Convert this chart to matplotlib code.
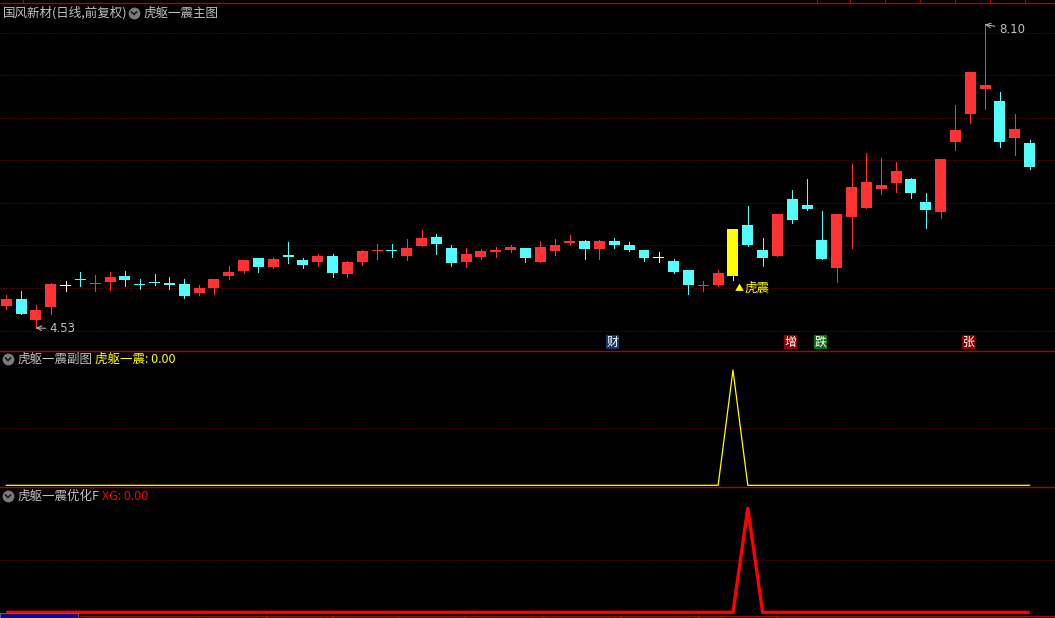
import numpy as np
import matplotlib
matplotlib.use("Agg")
import matplotlib.pyplot as plt
from matplotlib.lines import Line2D
from matplotlib.patches import Rectangle

plt.rcParams['font.family'] = ['Noto Sans CJK SC', 'DejaVu Sans']

# 日线 OHLC (前复权)
opens = [4.79, 4.87, 4.62, 4.78, 5.03, 5.11, 5.05, 5.07, 5.14, 5.05,
         5.07, 5.06, 5.05, 4.94, 5.00, 5.14, 5.20, 5.35, 5.25, 5.39,
         5.33, 5.31, 5.38, 5.17, 5.30, 5.44, 5.45, 5.38, 5.49, 5.60,
         5.47, 5.31, 5.37, 5.42, 5.45, 5.47, 5.31, 5.43, 5.53, 5.55,
         5.46, 5.55, 5.51, 5.45, 5.36, 5.32, 5.21, 5.02, 5.04, 5.14,
         5.74, 5.45, 5.38, 6.05, 5.98, 5.56, 5.24, 5.84, 5.94, 6.17,
         6.24, 6.28, 6.01, 5.89, 6.72, 7.05, 7.34, 7.20, 6.77, 6.71]
highs = [4.92, 4.96, 4.80, 5.06, 5.08, 5.19, 5.15, 5.19, 5.20, 5.11,
         5.16, 5.13, 5.11, 5.04, 5.11, 5.26, 5.33, 5.35, 5.36, 5.54,
         5.35, 5.40, 5.40, 5.32, 5.45, 5.52, 5.52, 5.58, 5.68, 5.64,
         5.51, 5.47, 5.46, 5.48, 5.51, 5.47, 5.55, 5.58, 5.62, 5.56,
         5.56, 5.59, 5.54, 5.45, 5.42, 5.34, 5.21, 5.08, 5.21, 5.69,
         5.96, 5.59, 5.87, 6.15, 6.28, 5.91, 5.87, 6.46, 6.59, 6.53,
         6.48, 6.29, 6.12, 6.52, 7.15, 7.54, 8.10, 7.31, 7.05, 6.74]
lows = [4.75, 4.70, 4.53, 4.70, 4.97, 5.02, 4.97, 4.98, 5.02, 4.99,
        5.04, 4.99, 4.88, 4.92, 4.93, 5.11, 5.18, 5.19, 5.24, 5.29,
        5.24, 5.26, 5.13, 5.13, 5.27, 5.34, 5.37, 5.33, 5.49, 5.40,
        5.26, 5.25, 5.34, 5.36, 5.42, 5.31, 5.31, 5.39, 5.50, 5.34,
        5.34, 5.47, 5.43, 5.32, 5.31, 5.18, 4.93, 4.97, 5.02, 5.10,
        5.49, 5.26, 5.38, 5.76, 5.92, 5.34, 5.07, 5.47, 5.94, 6.11,
        6.13, 6.06, 5.71, 5.82, 6.62, 6.94, 7.10, 6.66, 6.57, 6.40]
closes = [4.87, 4.70, 4.74, 5.05, 5.03, 5.09, 5.06, 5.13, 5.10, 5.03,
          5.06, 5.04, 4.91, 5.00, 5.11, 5.19, 5.33, 5.25, 5.34, 5.37,
          5.27, 5.38, 5.18, 5.31, 5.44, 5.45, 5.44, 5.47, 5.59, 5.52,
          5.29, 5.40, 5.44, 5.45, 5.48, 5.35, 5.48, 5.51, 5.55, 5.46,
          5.55, 5.51, 5.45, 5.35, 5.36, 5.19, 5.04, 5.03, 5.18, 5.69,
          5.51, 5.35, 5.87, 5.80, 5.93, 5.34, 5.87, 6.19, 6.25, 6.21,
          6.38, 6.12, 5.92, 6.52, 6.86, 7.54, 7.39, 6.72, 6.87, 6.42]

# 虎躯一震 (副图) and XG (优化F)
tiger = [0, 0, 0, 0, 0, 0, 0, 0, 0, 0, 0, 0, 0, 0, 0, 0, 0, 0, 0, 0,
         0, 0, 0, 0, 0, 0, 0, 0, 0, 0, 0, 0, 0, 0, 0, 0, 0, 0, 0, 0,
         0, 0, 0, 0, 0, 0, 0, 0, 0, 1, 0, 0, 0, 0, 0, 0, 0, 0, 0, 0,
         0, 0, 0, 0, 0, 0, 0, 0, 0, 0]
xg = [0, 0, 0, 0, 0, 0, 0, 0, 0, 0, 0, 0, 0, 0, 0, 0, 0, 0, 0, 0,
      0, 0, 0, 0, 0, 0, 0, 0, 0, 0, 0, 0, 0, 0, 0, 0, 0, 0, 0, 0,
      0, 0, 0, 0, 0, 0, 0, 0, 0, 0, 1, 0, 0, 0, 0, 0, 0, 0, 0, 0,
      0, 0, 0, 0, 0, 0, 0, 0, 0, 0]

price_grid = [4.5, 5.0, 5.5, 6.0, 6.5, 7.0, 7.5, 8.0]
mark_idx = [41, 53, 55, 65]
mark_text = ['财', '增', '跌', '张']
mark_price = 4.36

UP, DOWN, FLAT, SIG = '#ff3232', '#54fcfc', '#ffffff', '#ffff00'
GRID = '#960000'
SEP = '#b00000'
GRAY = '#c0c0c0'
mark_bg = ['#15386a', '#8c0000', '#0c6e0c', '#8c0000']

W, H = 1055, 618
fig = plt.figure(figsize=(W / 100, H / 100), dpi=100, facecolor='black')

def px(x, y):
    return x / W, 1 - y / H

ax1 = fig.add_axes([0, 1 - 350 / H, 1, 347 / H])
ax2 = fig.add_axes([0, 1 - 487 / H, 1, 136 / H])
ax3 = fig.add_axes([0, 0, 1, 131 / H])

xlim = (-6.3 / 14.83, (W - 6.3) / 14.83)
for ax in (ax1, ax2, ax3):
    ax.set_facecolor('black')
    ax.set_xlim(*xlim)
    ax.set_xticks([])
    ax.set_yticks([])
    for s in ('left', 'right', 'bottom'):
        ax.spines[s].set_visible(False)
    ax.spines['top'].set_color(SEP)
    ax.spines['top'].set_linewidth(1.0)

ax1.set_ylim(4.2706, 8.3529)
ax2.set_ylim(-0.0147, 1.165)
ax3.set_ylim(-0.0548, 1.2048)

# dotted grid
dots = dict(color=GRID, lw=0.72, ls=(0, (1, 2)), zorder=0)
for p in price_grid:
    ax1.axhline(p, **dots)
ax2.axhline(0.5, **dots)
ax3.axhline(0.5, **dots)

# candles
idx = np.arange(len(opens))
o, h, l, c = map(np.array, (opens, highs, lows, closes))
sig = np.array(tiger)
cols = np.where(c > o, UP, np.where(c < o, DOWN, FLAT)).astype(object)
cols[sig == 1] = SIG
minh = 0.012
diff = np.abs(c - o)
bh = np.maximum(diff, minh)
bb = np.minimum(o, c) - (bh - diff) / 2
ax1.vlines(idx, l, h, colors=list(cols), lw=0.72, zorder=2, antialiased=False)
ax1.bar(idx, bh, width=0.74, bottom=bb, color=list(cols), lw=0, zorder=3,
        antialiased=False)

# high / low labels
lo_i = int(np.argmin(l))
hi_i = int(np.argmax(h))
ax1.annotate(f'{l[lo_i]:.2f}', xy=(lo_i, l[lo_i]), xytext=(10, -0.7),
             textcoords='offset points', color=GRAY, fontsize=8.5,
             va='center', ha='left', family='DejaVu Sans',
             arrowprops=dict(arrowstyle='->', color=GRAY, lw=0.7,
                             shrinkA=1, shrinkB=0))
ax1.annotate(f'{h[hi_i]:.2f}', xy=(hi_i, h[hi_i]), xytext=(10, -3.6),
             textcoords='offset points', color=GRAY, fontsize=8.5,
             va='center', ha='left', family='DejaVu Sans',
             arrowprops=dict(arrowstyle='->', color=GRAY, lw=0.7,
                             shrinkA=1, shrinkB=0))

# 虎震 signal label
s_i = int(np.argmax(sig))
ax1.annotate('▲', xy=(s_i, l[s_i]), xytext=(1.5, -3.5),
             textcoords='offset points', color=SIG, fontsize=6.5,
             va='top', ha='left')
ax1.annotate('虎震', xy=(s_i, l[s_i]), xytext=(8, -1.5),
             textcoords='offset points', color=SIG, fontsize=9,
             va='top', ha='left')

# event marks
for i, t, bg in zip(mark_idx, mark_text, mark_bg):
    ax1.text(i - 0.12, mark_price, t, color='white', fontsize=8.6,
             ha='center', va='center',
             bbox=dict(boxstyle='square,pad=0.05', fc=bg, ec='none'))

# indicator panels
ax2.plot(idx, tiger, color=SIG, lw=0.9)
ax3.plot(idx, xg, color='#ff0000', lw=2.4, solid_capstyle='butt')

# panel titles
def icon(x, y):
    fig.add_artist(Line2D([x / W], [1 - y / H], marker='o', ms=8.5,
                          color='#7a7a7a', mec='none', transform=fig.transFigure))
    xs = [(x - 2.5) / W, x / W, (x + 2.5) / W]
    ys = [1 - (y - 1) / H, 1 - (y + 1.5) / H, 1 - (y - 1) / H]
    fig.add_artist(Line2D(xs, ys, color='#1a1a1a', lw=1.2,
                          transform=fig.transFigure))

fig.text(*px(3, 13), '国风新材(日线,前复权)', color=GRAY, fontsize=9, va='center')
icon(134, 13)
fig.text(*px(143, 13), '虎躯一震主图', color=GRAY, fontsize=9, va='center')

icon(8, 359)
fig.text(*px(17, 359), '虎躯一震副图', color=GRAY, fontsize=9, va='center')
fig.text(*px(95, 359), f'虎躯一震: {tiger[-1]:.2f}', color=SIG, fontsize=9, va='center')

icon(8, 496)
fig.text(*px(17, 496), '虎躯一震优化F', color=GRAY, fontsize=9, va='center')
fig.text(*px(102, 496), f'XG: {xg[-1]:.2f}', color='#ff0000', fontsize=9, va='center')

# top ruler ticks
for tx in [23, 816.6, 850.2, 885.2, 920.3, 955.3, 990.3, 1025.3]:
    fig.add_artist(Line2D([tx / W, tx / W], [1, 1 - 3 / H], color=SEP, lw=0.8,
                          transform=fig.transFigure))

# bottom date strip
fig.add_artist(Line2D([78 / W, 1], [1 - 615.5 / H] * 2, color=SEP, lw=0.8,
                      transform=fig.transFigure))
for tx in [198.5, 265.8, 331.8, 399, 464, 542.4, 619.8, 697.8, 775.9]:
    fig.add_artist(Line2D([tx / W, tx / W], [1 - 615.5 / H, 0], color=SEP, lw=0.8,
                          transform=fig.transFigure))
fig.add_artist(Rectangle((0, 0), 78 / W, 5 / H, transform=fig.transFigure,
                         fc='#0a0a8c', ec='#707070', lw=0.6))

fig.savefig('out.png', dpi=100, facecolor='black')
